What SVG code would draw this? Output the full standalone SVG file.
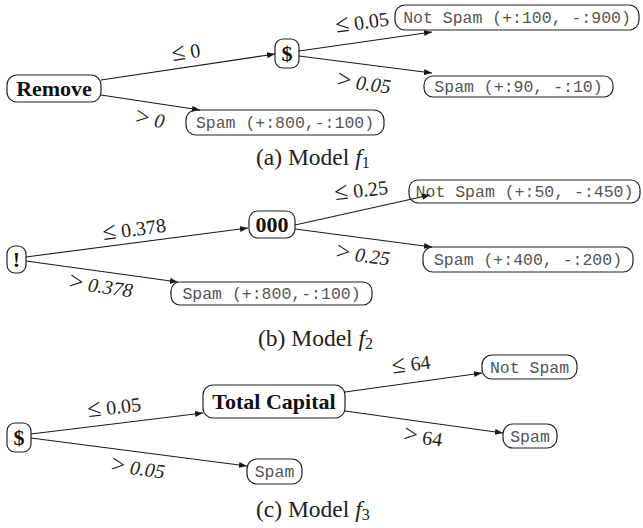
<svg xmlns="http://www.w3.org/2000/svg" width="643" height="528" viewBox="0 0 643 528">
<defs>
<marker id="arr" markerWidth="9" markerHeight="7" refX="8" refY="3" orient="auto" markerUnits="userSpaceOnUse">
<path d="M0,0 L8,3 L0,6 z" fill="#1a1a1a"/>
</marker>
<style>
.box{fill:#fff;stroke:#222;stroke-width:1.2}
.feat{font-family:"Liberation Serif","DejaVu Serif",serif;font-weight:bold;font-size:22px;fill:#111;text-anchor:middle}
.leaf{font-family:"Liberation Mono","DejaVu Sans Mono",monospace;font-size:16.5px;fill:#555;text-anchor:middle}
.lbl{font-family:"Liberation Serif","DejaVu Serif",serif;font-size:20px;fill:#222;text-anchor:middle}
.sym{font-size:25px}
.cap{font-family:"Liberation Serif","DejaVu Serif",serif;font-size:23.5px;fill:#222}
.edge{stroke:#1a1a1a;stroke-width:1.1;fill:none;marker-end:url(#arr)}
.it{font-style:italic}
</style>
</defs>
<rect width="643" height="528" fill="#fff"/>

<!-- Panel a -->
<g id="a-remove"><rect class="box" x="7" y="75" width="94" height="27" rx="10"/><text class="feat" x="54" y="96">Remove</text></g>
<g id="a-dollar"><rect class="box" x="275" y="39" width="24" height="29" rx="8"/><text class="feat" x="287" y="61">$</text></g>
<g id="a-notspam"><rect class="box" x="395" y="5" width="244" height="25" rx="10"/><text class="leaf" x="517" y="22.5">Not Spam (+:100, -:900)</text></g>
<g id="a-spam1"><rect class="box" x="424" y="76" width="189" height="21" rx="9"/><text class="leaf" x="518.5" y="91.5">Spam (+:90, -:10)</text></g>
<g id="a-spam2"><rect class="box" x="186" y="110" width="198" height="25" rx="10"/><text class="leaf" x="285" y="127.5">Spam (+:800,-:100)</text></g>

<!-- Panel b -->
<g id="b-excl"><rect class="box" x="7" y="246" width="19" height="27" rx="8"/><text class="feat" x="16.5" y="267">!</text></g>
<g id="b-000"><rect class="box" x="249" y="211" width="46" height="27" rx="9"/><text class="feat" x="272" y="232">000</text></g>
<g id="b-notspam"><rect class="box" x="409" y="180" width="231" height="23" rx="9"/><text class="leaf" x="524.5" y="196.5">Not Spam (+:50, -:450)</text></g>
<g id="b-spam1"><rect class="box" x="423" y="247" width="210" height="25" rx="10"/><text class="leaf" x="528" y="264.5">Spam (+:400, -:200)</text></g>
<g id="b-spam2"><rect class="box" x="171" y="282" width="201" height="23" rx="9"/><text class="leaf" x="271.5" y="298.5">Spam (+:800,-:100)</text></g>

<!-- Panel c -->
<g id="c-dollar"><rect class="box" x="7" y="423" width="24" height="29" rx="8"/><text class="feat" x="19" y="445">$</text></g>
<g id="c-total"><rect class="box" x="203" y="385" width="142" height="33" rx="10"/><text class="feat" x="274" y="409">Total Capital</text></g>
<g id="c-notspam"><rect class="box" x="482" y="355" width="95" height="24" rx="10"/><text class="leaf" x="529.5" y="372.5">Not Spam</text></g>
<g id="c-spam1"><rect class="box" x="503" y="424" width="54" height="24" rx="10"/><text class="leaf" x="530" y="441.5">Spam</text></g>
<g id="c-spam2"><rect class="box" x="247" y="459" width="55" height="25" rx="10"/><text class="leaf" x="274.5" y="476.5">Spam</text></g>

<g id="connectors">
<line class="edge" x1="101" y1="80" x2="275" y2="54"/>
<line class="edge" x1="101" y1="95" x2="200" y2="110"/>
<line class="edge" x1="299" y1="51" x2="432" y2="32"/>
<line class="edge" x1="299" y1="56" x2="432" y2="73"/>

<line class="edge" x1="26" y1="257" x2="248" y2="228"/>
<line class="edge" x1="26" y1="261" x2="178" y2="282"/>
<line class="edge" x1="295" y1="225" x2="430" y2="195"/>
<line class="edge" x1="295" y1="229" x2="432" y2="247"/>

<line class="edge" x1="31" y1="434" x2="203" y2="413"/>
<line class="edge" x1="31" y1="438" x2="247" y2="466"/>
<line class="edge" x1="345" y1="392" x2="482" y2="373"/>
<line class="edge" x1="345" y1="411" x2="503" y2="433"/>
</g>

<g id="labels">
<text class="lbl" transform="translate(187,59) rotate(-8.6)"><tspan class="sym">≤</tspan> 0</text>
<text class="lbl" transform="translate(149,126) rotate(8.7)"><tspan class="sym">&gt;</tspan> <tspan class="it">0</tspan></text>
<text class="lbl" transform="translate(363,29) rotate(-8)"><tspan class="sym">≤</tspan> 0.05</text>
<text class="lbl" transform="translate(363,90) rotate(7.3)"><tspan class="sym">&gt;</tspan> <tspan class="it">0.05</tspan></text>

<text class="lbl" transform="translate(135,236) rotate(-7.6)"><tspan class="sym">≤</tspan> 0.378</text>
<text class="lbl" transform="translate(100,293) rotate(8)"><tspan class="sym">&gt;</tspan> <tspan class="it">0.378</tspan></text>
<text class="lbl" transform="translate(362,197) rotate(-7)"><tspan class="sym">≤</tspan> 0.25</text>
<text class="lbl" transform="translate(362,262) rotate(7.5)"><tspan class="sym">&gt;</tspan> <tspan class="it">0.25</tspan></text>

<text class="lbl" transform="translate(115,414) rotate(-7)"><tspan class="sym">≤</tspan> 0.05</text>
<text class="lbl" transform="translate(137,475) rotate(7.4)"><tspan class="sym">&gt;</tspan> <tspan class="it">0.05</tspan></text>
<text class="lbl" transform="translate(412,371) rotate(-7.9)"><tspan class="sym">≤</tspan> 64</text>
<text class="lbl" transform="translate(422,444) rotate(7.9)"><tspan class="sym">&gt;</tspan> 64</text>
</g>

<g id="captions">
<text class="cap" x="256" y="165">(a) Model <tspan class="it">f</tspan><tspan font-size="16" dy="3">1</tspan></text>
<text class="cap" x="258" y="346">(b) Model <tspan class="it">f</tspan><tspan font-size="16" dy="3">2</tspan></text>
<text class="cap" x="256" y="517">(c) Model <tspan class="it">f</tspan><tspan font-size="16" dy="3">3</tspan></text>
</g>
</svg>
